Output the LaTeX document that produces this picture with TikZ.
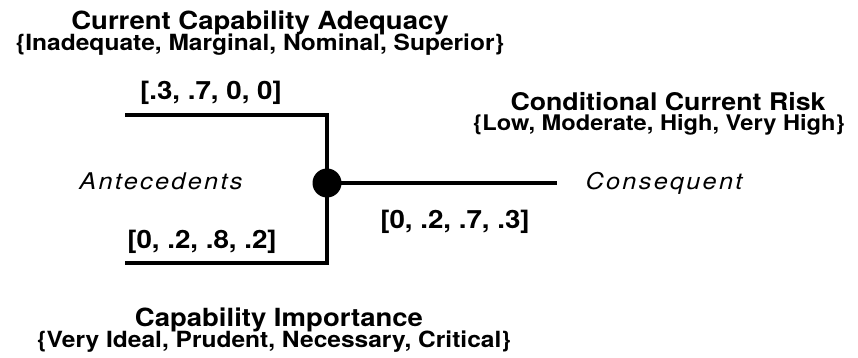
\documentclass[tikz,border=0pt]{standalone}
\usepackage{fontspec}
\setmainfont{TeX Gyre Heros}[FakeStretch=1.1]
\begin{document}
\begin{tikzpicture}[x=1pt,y=-1pt,
  wire/.style={line width=3.6pt,line cap=rect},
  junction/.style={circle,fill=black,inner sep=0pt,minimum size=29pt},
  varname/.style={inner sep=0pt,anchor=base,font=\fontsize{25}{28}\selectfont\bfseries},
  stateset/.style={inner sep=0pt,anchor=base,font=\fontsize{22.3}{25}\selectfont\bfseries},
  probvec/.style={inner sep=0pt,anchor=base,font=\fontsize{25.2}{28}\selectfont\bfseries},
  rolelabel/.style={inner sep=0pt,anchor=base,font=\fontsize{23}{26}\selectfont\itshape\addfontfeatures{LetterSpace=10}}]
\useasboundingbox (0,0) rectangle (858,358);

% wiring of the fragment
\coordinate (j) at (327,183);
\coordinate (inA) at (127,115);
\coordinate (inB) at (127,263);
\coordinate (outC) at (555,183);
\draw[wire] (inA) -| (j);
\draw[wire] (inB) -| (j);
\draw[wire] (j) -- (outC);
\node[junction] (dot) at (j) {};

% upper antecedent
\node[varname] (adqT) at (260,30) {Current Capability Adequacy};
\node[stateset] (adqD) at (260,51) {\{Inadequate, Marginal, Nominal, Superior\}};
\node[probvec] (adqP) at (211,100) {[.3, .7, 0, 0]};

% lower antecedent
\node[probvec] (impP) at (202,248) {[0, .2, .8, .2]};
\node[varname] (impT) at (279,326) {Capability Importance};
\node[stateset] (impD) at (274,347) {\{Very Ideal, Prudent, Necessary, Critical\}};

% consequent
\node[varname,font=\fontsize{24.3}{27}\selectfont\bfseries] (rskT) at (668,111) {Conditional Current Risk};
\node[stateset,font=\fontsize{21.5}{24}\selectfont\bfseries] (rskD) at (659,131) {\{Low, Moderate, High, Very High\}};
\node[probvec] (rskP) at (455,228) {[0, .2, .7, .3]};

% roles
\node[rolelabel] (ante) at (161,189) {Antecedents};
\node[rolelabel] (cons) at (664,189) {Consequent};
\end{tikzpicture}
\end{document}
